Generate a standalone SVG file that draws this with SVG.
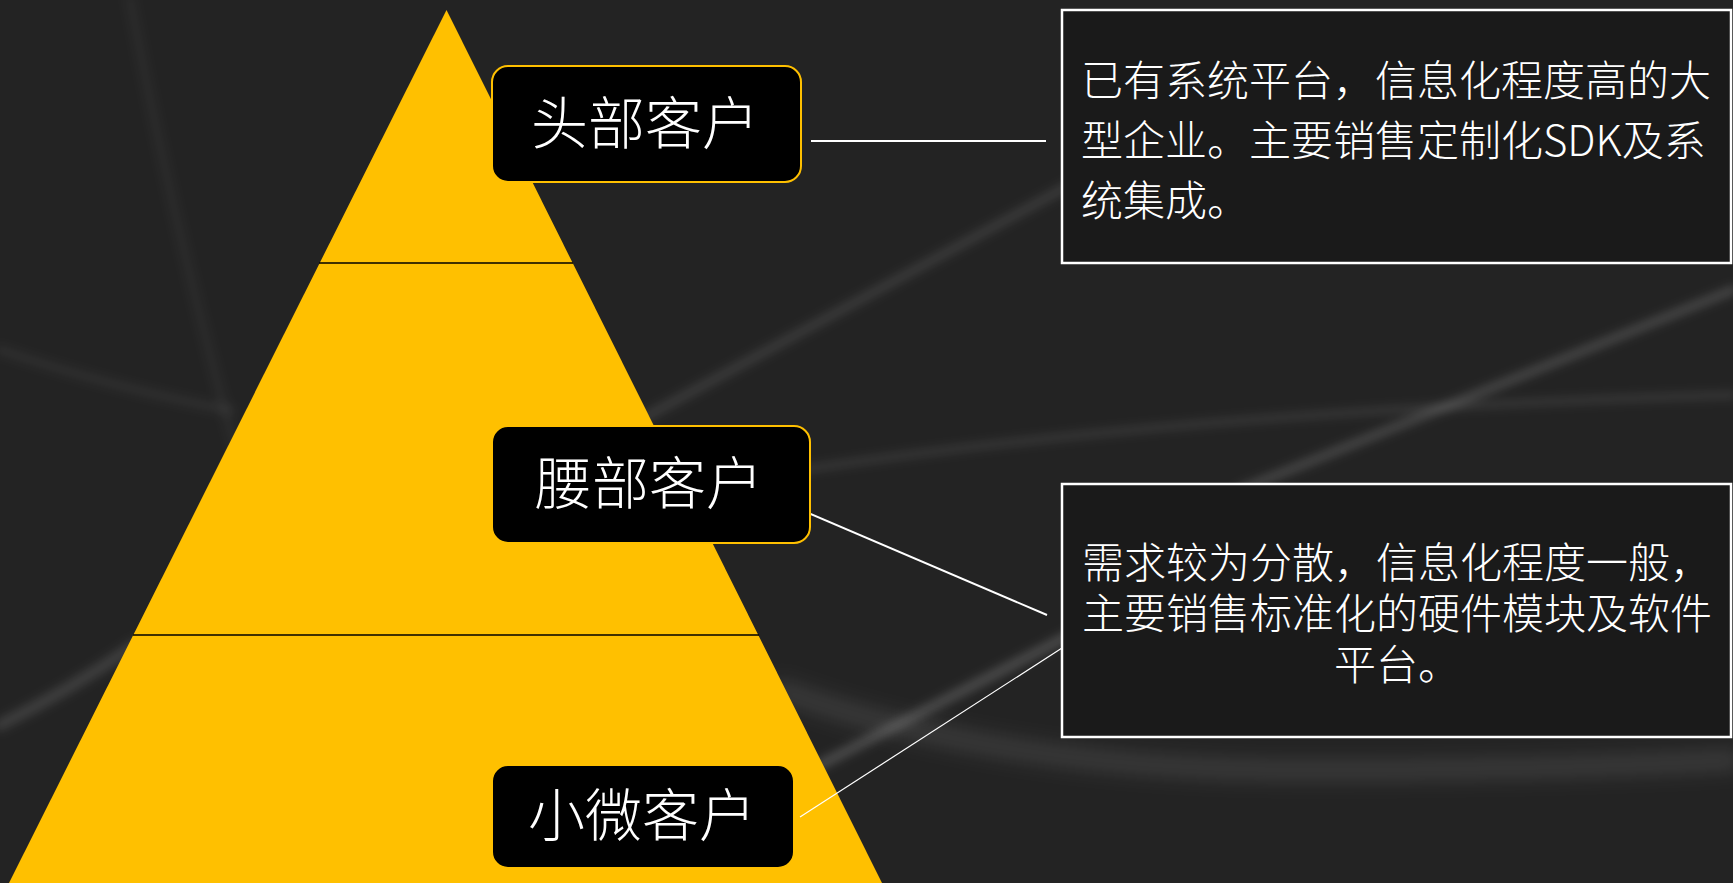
<svg xmlns="http://www.w3.org/2000/svg" width="1733" height="883" viewBox="0 0 1733 883">
<style>
.lbl{font-family:"Noto Sans CJK SC","Noto Sans",sans-serif;font-weight:300;font-size:57px;fill:#ffffff;text-anchor:middle}
.desc{font-family:"Noto Sans CJK SC","Noto Sans",sans-serif;font-weight:300;font-size:42px;fill:#ffffff}
.tag{fill:#000000;stroke:#FFC000;stroke-width:2}
.card{fill:#1a1a1a;stroke:#ffffff;stroke-width:2.5}
.div{stroke:#000000;stroke-width:1.5}
.streak{fill:none;stroke:#ffffff;stroke-linecap:round}
</style>
<defs>
<filter id="blur" x="-20%" y="-20%" width="140%" height="140%"><feGaussianBlur stdDeviation="5"/></filter>
<filter id="blur2" x="-20%" y="-50%" width="140%" height="200%"><feGaussianBlur stdDeviation="10"/></filter>
</defs>
<g id="background">
<rect x="0" y="0" width="1733" height="883" fill="#232323"/>
<g filter="url(#blur)">
<path class="streak" d="M640,420 L1070,185" stroke-width="10" stroke-opacity="0.10"/>
<path class="streak" d="M1240,490 L1733,290" stroke-width="9" stroke-opacity="0.16"/>
<path class="streak" d="M800,470 Q1200,410 1733,395" stroke-width="8" stroke-opacity="0.09"/>
<path class="streak" d="M820,765 L1070,635" stroke-width="10" stroke-opacity="0.18"/>
<path class="streak" d="M0,725 Q70,690 135,645" stroke-width="12" stroke-opacity="0.12"/>
<path class="streak" d="M130,0 Q180,260 250,500" stroke-width="10" stroke-opacity="0.04"/>
<path class="streak" d="M0,350 Q120,390 230,410" stroke-width="10" stroke-opacity="0.05"/>
</g>
<g filter="url(#blur2)">
<path class="streak" d="M780,690 Q1000,770 1300,770 Q1550,770 1733,760" stroke-width="18" stroke-opacity="0.12"/>
</g>
</g>
<g id="pyramid">
<polygon points="446.5,10 882,883 9,883" fill="#FFC000"/>
<line class="div" x1="319" y1="263" x2="573" y2="263"/>
<line class="div" x1="133" y1="635" x2="759" y2="635"/>
</g>
<g id="connectors" stroke="#ffffff" fill="none">
<line x1="811" y1="141" x2="1046" y2="141" stroke-width="2"/>
<line x1="792" y1="506" x2="1047" y2="615" stroke-width="2"/>
<line x1="800" y1="817" x2="1062" y2="648" stroke-width="1.2"/>
</g>
<g id="node-head">
<rect class="tag" x="492" y="66" width="309" height="116" rx="16"/>
<text class="lbl" x="645" y="144">头部客户</text>
</g>
<g id="node-waist">
<rect class="tag" x="492" y="426" width="318" height="117" rx="16"/>
<text class="lbl" x="649" y="504">腰部客户</text>
</g>
<g id="node-small">
<rect class="tag" x="492" y="765" width="302" height="103" rx="16"/>
<text class="lbl" x="642" y="836">小微客户</text>
</g>
<g id="desc-head">
<rect class="card" x="1062" y="10" width="669" height="253"/>
<text class="desc" x="1081" y="96">已有系统平台，信息化程度高的大</text>
<text class="desc" x="1081" y="156">型企业。主要销售定制化SDK及系</text>
<text class="desc" x="1081" y="216">统集成。</text>
</g>
<g id="desc-waist">
<rect class="card" x="1062" y="484" width="669" height="253"/>
<text class="desc" x="1397" y="578" text-anchor="middle">需求较为分散，信息化程度一般，</text>
<text class="desc" x="1397" y="629" text-anchor="middle">主要销售标准化的硬件模块及软件</text>
<text class="desc" x="1397" y="680" text-anchor="middle">平台。</text>
</g>
</svg>
